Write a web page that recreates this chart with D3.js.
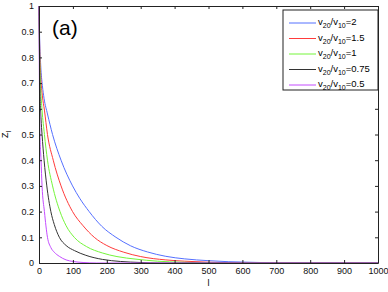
<!DOCTYPE html>
<html>
<head>
  <meta charset="utf-8">
  <title>Z_l vs l</title>
  <script src="https://d3js.org/d3.v7.min.js"></script>
  <style>
    body { margin: 0; background: #fff; }
    text { font-family: "Liberation Sans", Arial, sans-serif; }
  </style>
</head>
<body>
  <div id="chart"></div>

  <script>
    // series: [l, Z_l]
    var ratioLabels = ["2", "1.5", "1", "0.75", "0.5"];
    var seriesColors = ["#5570ff", "#ff3b3b", "#74f53a", "#333333", "#c44dff"];

    var blue = [[0,1],[2,0.87],[5,0.77],[10,0.69],[15,0.64],[25,0.58],[40,0.5],[65,0.4],[99,0.3],[120,0.252],[148,0.2],[185,0.143],[227,0.1],[270,0.067],[320,0.043],[374,0.026],[430,0.016],[500,0.009],[560,0.005],[620,0.003],[680,0.001],[750,0],[1000,0]];
    var red = [[0,1],[2,0.84],[5,0.73],[10,0.65],[16,0.595],[25,0.5],[42,0.4],[65,0.3],[99,0.2],[130,0.145],[163,0.1],[200,0.068],[250,0.042],[300,0.025],[374,0.012],[430,0.007],[500,0.003],[560,0.001],[620,0],[1000,0]];
    var green = [[0,1],[2,0.8],[5,0.68],[9,0.595],[16,0.5],[25,0.4],[40,0.3],[62,0.2],[80,0.145],[104,0.1],[140,0.064],[187,0.039],[230,0.025],[286,0.015],[350,0.007],[420,0.003],[480,0.001],[540,0],[1000,0]];
    var black = [[0,1],[1,0.85],[3,0.66],[6,0.56],[9,0.5],[15,0.4],[23,0.3],[35,0.2],[45,0.15],[60,0.1],[80,0.068],[105,0.048],[138,0.03],[187,0.014],[240,0.006],[300,0.002],[360,0],[1000,0]];
    var purple = [[0,1],[1,0.75],[3,0.5],[6,0.4],[9,0.3],[16,0.2],[25,0.1],[35,0.06],[45,0.042],[60,0.026],[80,0.012],[100,0.006],[130,0.002],[170,0],[1000,0]];

    var allSeries = [blue, red, green, black, purple];
    var xTicks = d3.range(0, 1001, 100);
    var yTicks = d3.range(0, 11).map(function(i) { return i / 10; });

    var margin = { top: 6, right: 10, bottom: 29, left: 39 };
    var width = 388 - margin.left - margin.right;
    var height = 292 - margin.top - margin.bottom;

    var x = d3.scaleLinear().domain([0, 1000]).range([0, width]);
    var y = d3.scaleLinear().domain([0, 1]).range([height, 0]);

    var svg = d3.select("#chart")
      .append("svg")
      .attr("width", 388)
      .attr("height", 292)
      .append("g")
      .attr("transform", "translate(" + margin.left + "," + margin.top + ")");

    // curves
    var line = d3.line()
      .x(function(d) { return x(d[0]); })
      .y(function(d) { return y(d[1]); })
      .curve(d3.curveMonotoneX);

    svg.selectAll(".curve")
      .data(allSeries)
      .enter().append("path")
      .attr("class", "curve")
      .attr("d", line)
      .attr("fill", "none")
      .attr("stroke", function(d, i) { return seriesColors[i]; })
      .attr("stroke-width", 1);

    // axes, ticks pointing in, on all four sides
    function styleAxis(g) {
      g.select(".domain").attr("stroke", "#222");
      g.selectAll(".tick line").attr("stroke", "#222");
      g.selectAll("text").attr("fill", "#111").style("font-size", "9px");
    }
    svg.append("g")
      .attr("transform", "translate(0," + height + ")")
      .call(d3.axisBottom(x).tickValues(xTicks).tickFormat(d3.format("d")).tickSizeInner(-3).tickSizeOuter(0).tickPadding(5))
      .call(styleAxis);
    svg.append("g")
      .call(d3.axisLeft(y).tickValues(yTicks).tickFormat(d3.format("~g")).tickSizeInner(-3).tickSizeOuter(0).tickPadding(5))
      .call(styleAxis);
    svg.append("g")
      .call(d3.axisTop(x).tickValues(xTicks).tickSizeInner(-3).tickSizeOuter(0).tickFormat(""))
      .call(styleAxis);
    svg.append("g")
      .attr("transform", "translate(" + width + ",0)")
      .call(d3.axisRight(y).tickValues(yTicks).tickSizeInner(-3).tickSizeOuter(0).tickFormat(""))
      .call(styleAxis);

    // axis labels
    svg.append("text")
      .attr("x", x(500))
      .attr("y", height + 23)
      .attr("text-anchor", "middle")
      .style("font-size", "9px")
      .text("l");

    var yl = svg.append("text")
      .attr("transform", "translate(-31," + y(0.5) + ") rotate(-90)")
      .attr("text-anchor", "middle")
      .style("font-size", "9px");
    yl.append("tspan").text("Z");
    yl.append("tspan").attr("dy", 3).style("font-size", "7px").text("l");

    svg.append("text")
      .attr("x", 13)
      .attr("y", 29)
      .style("font-size", "21px")
      .text("(a)");

    // legend
    var lg = svg.append("g").attr("transform", "translate(" + (width - 95) + ",4)");
    lg.append("rect")
      .attr("width", 95)
      .attr("height", 80)
      .attr("fill", "#fff")
      .attr("stroke", "#222");
    ratioLabels.forEach(function(r, i) {
      var row = lg.append("g").attr("transform", "translate(0," + (13 + i * 15.5) + ")");
      row.append("line")
        .attr("x1", 6).attr("x2", 33)
        .attr("stroke", seriesColors[i]);
      var t = row.append("text").attr("x", 35).attr("y", 2).style("font-size", "9.5px");
      t.append("tspan").text("v");
      t.append("tspan").attr("dy", 3).style("font-size", "7px").text("20");
      t.append("tspan").attr("dy", -3).text("/v");
      t.append("tspan").attr("dy", 3).style("font-size", "7px").text("10");
      t.append("tspan").attr("dy", -3).text("=" + r);
    });
  </script>
</body>
</html>
